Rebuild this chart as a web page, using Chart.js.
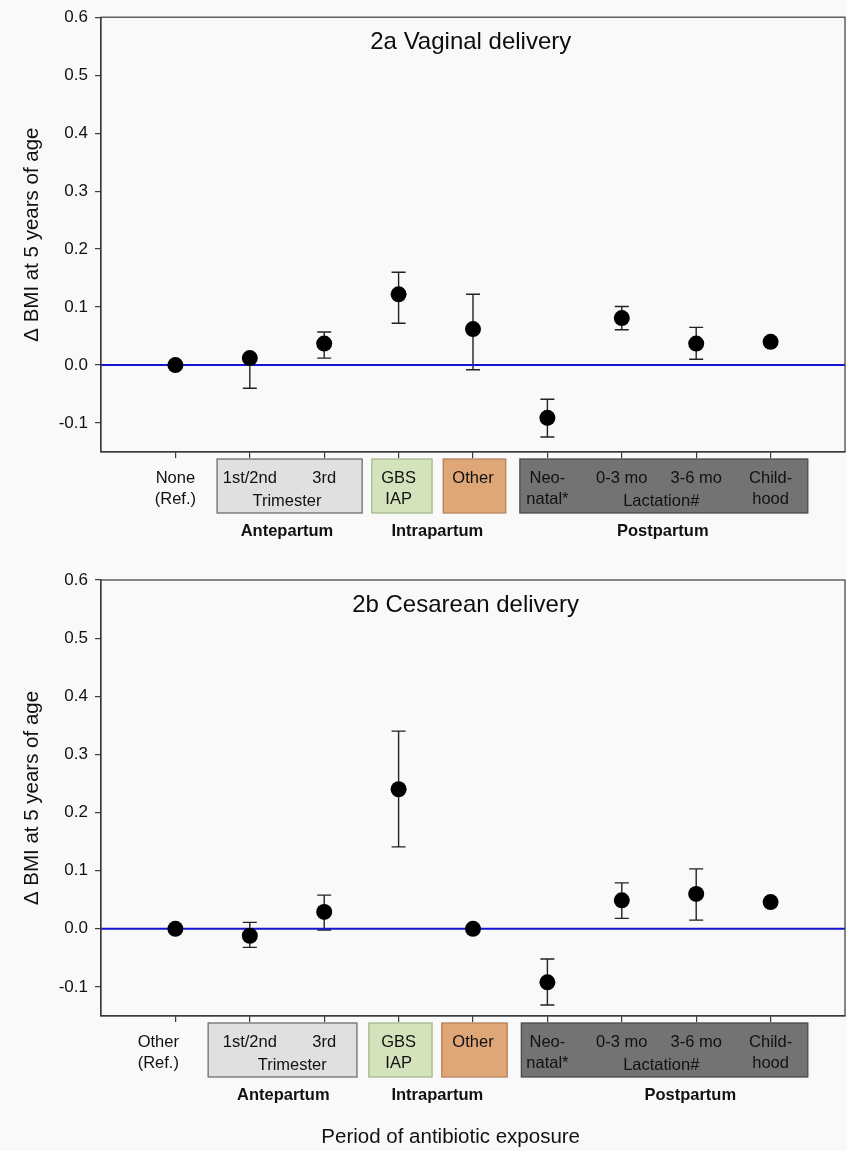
<!DOCTYPE html>
<html>
<head>
<meta charset="utf-8">
<script src="https://cdn.jsdelivr.net/npm/chart.js@4.4.1/dist/chart.umd.min.js"></script>
<style>
  html, body { margin: 0; padding: 0; background: #f9f9f9; }
  #wrap { position: relative; width: 847px; height: 1151px; }
  canvas { position: absolute; left: 0; }
  #c1 { top: 0; }
  #c2 { top: 560px; }
</style>
</head>
<body>
<div id="wrap">
  <canvas id="c1" width="847" height="560"></canvas>
  <canvas id="c2" width="847" height="591"></canvas>
</div>
<script>
// Périodes d'exposition (axe x = 1..9)
const periods = ['None (Ref.)', '1st/2nd', '3rd', 'GBS IAP', 'Other', 'Neo-natal*', '0-3 mo', '3-6 mo', 'Childhood'];
const yTicks = [-0.1, 0.0, 0.1, 0.2, 0.3, 0.4, 0.5, 0.6];

// 2a Vaginal delivery
const vagMean = [0, 0.012, 0.037, 0.122, 0.062, -0.091, 0.081, 0.037, 0.040];
const vagLow  = [null, -0.040, 0.012, 0.072, -0.008, -0.124, 0.061, 0.010, null];
const vagHigh = [null, null, 0.057, 0.160, 0.122, -0.059, 0.101, 0.065, null];

// 2b Cesarean delivery
const cesMean = [0, -0.012, 0.029, 0.240, 0, -0.092, 0.049, 0.060, 0.046];
const cesLow  = [null, -0.032, -0.002, 0.141, null, -0.131, 0.018, 0.015, null];
const cesHigh = [null, 0.011, 0.058, 0.340, null, -0.052, 0.079, 0.103, null];

const FONT = "'Liberation Sans', Arial, sans-serif";
const AXIS = '#3a3a3a';

// Boîtes sous l'axe
const boxes = [
  { fill: '#e0e0e0', stroke: '#6e6e6e' },
  { fill: '#d5e3bd', stroke: '#a6b88a' },
  { fill: '#dfa677', stroke: '#b5835a' },
  { fill: '#737373', stroke: '#4a4a4a' }
];

function panelLayout(first, antX, trimX, postX, boxX) {
  return {
    tickLabels: [
      { x: first, lines: [first === 1 ? 'None' : 'Other', '(Ref.)'] },
      { x: 2, lines: ['1st/2nd'] },
      { x: 3, lines: ['3rd'] },
      { x: 4, lines: ['GBS', 'IAP'] },
      { x: 5, lines: ['Other'] },
      { x: 6, lines: ['Neo-', 'natal*'] },
      { x: 7, lines: ['0-3 mo'] },
      { x: 8, lines: ['3-6 mo'] },
      { x: 9, lines: ['Child-', 'hood'] }
    ],
    inner: [{ x: trimX, text: 'Trimester' }, { x: 7.53, text: 'Lactation#' }],
    groups: [{ x: antX, text: 'Antepartum' }, { x: 4.52, text: 'Intrapartum' }, { x: postX, text: 'Postpartum' }],
    boxX: boxX
  };
}

const annotPlugin = {
  id: 'annot',
  beforeDatasetsDraw(chart) {
    const ctx = chart.ctx, xs = chart.scales.x, ys = chart.scales.y;
    const o = chart.options.plugins.annot;
    ctx.save();
    ctx.strokeStyle = '#222';
    ctx.lineWidth = 1.4;
    o.mean.forEach((m, i) => {
      const px = xs.getPixelForValue(i + 1);
      [o.low[i], o.high[i]].forEach(v => {
        if (v === null) return;
        const py = ys.getPixelForValue(v);
        ctx.beginPath();
        ctx.moveTo(px, ys.getPixelForValue(m));
        ctx.lineTo(px, py);
        ctx.moveTo(px - 7, py);
        ctx.lineTo(px + 7, py);
        ctx.stroke();
      });
    });
    ctx.restore();
  },
  afterDraw(chart) {
    const ctx = chart.ctx, xs = chart.scales.x;
    const a = chart.chartArea;
    const o = chart.options.plugins.annot;
    const L = o.layout;
    ctx.save();
    // cadre
    ctx.strokeStyle = AXIS;
    ctx.lineWidth = 1.2;
    ctx.strokeRect(a.left, a.top, a.right - a.left, a.bottom - a.top);
    // titre du panneau
    ctx.fillStyle = '#0d0d0d';
    ctx.font = '24px ' + FONT;
    ctx.textAlign = 'center';
    ctx.textBaseline = 'middle';
    ctx.fillText(o.title, xs.getPixelForValue(o.titleX), a.top + 25);
    // boîtes
    L.boxX.forEach((b, i) => {
      const x0 = xs.getPixelForValue(b[0]), x1 = xs.getPixelForValue(b[1]);
      ctx.fillStyle = boxes[i].fill;
      ctx.strokeStyle = boxes[i].stroke;
      ctx.lineWidth = 1.3;
      ctx.fillRect(x0, a.bottom + 7, x1 - x0, 54);
      ctx.strokeRect(x0, a.bottom + 7, x1 - x0, 54);
    });
    ctx.fillStyle = '#111';
    ctx.font = '16.5px ' + FONT;
    L.tickLabels.forEach(t => {
      t.lines.forEach((s, k) => ctx.fillText(s, xs.getPixelForValue(t.x), a.bottom + 26 + k * 21));
    });
    L.inner.forEach(t => ctx.fillText(t.text, xs.getPixelForValue(t.x), a.bottom + 49));
    ctx.font = 'bold 16.5px ' + FONT;
    L.groups.forEach(t => ctx.fillText(t.text, xs.getPixelForValue(t.x), a.bottom + 79));
    if (o.xTitle) {
      ctx.font = '20.5px ' + FONT;
      ctx.fillText(o.xTitle, xs.getPixelForValue(4.7), a.bottom + 121);
    }
    ctx.restore();
  }
};

function makeChart(id, mean, low, high, title, titleX, layout, padTop, xHeight, xTitle) {
  new Chart(document.getElementById(id), {
    type: 'scatter',
    data: {
      datasets: [{
        data: mean.map((v, i) => ({ x: i + 1, y: v })),
        backgroundColor: '#000',
        borderWidth: 0,
        pointRadius: 8,
        order: 1
      }, {
        type: 'line',
        data: [{ x: 0, y: 0 }, { x: 10, y: 0 }],
        borderColor: '#1515d0',
        borderWidth: 2,
        pointRadius: 0,
        order: 2
      }]
    },
    options: {
      responsive: false,
      animation: false,
      devicePixelRatio: 1,
      layout: { autoPadding: false, padding: { top: padTop, right: 2, left: 0, bottom: 0 } },
      plugins: {
        legend: { display: false },
        tooltip: { enabled: false },
        annot: { mean: mean, low: low, high: high, title: title, titleX: titleX, layout: layout, xTitle: xTitle }
      },
      scales: {
        x: {
          type: 'linear',
          min: 0,
          max: 10,
          afterBuildTicks: s => { s.ticks = periods.map((p, i) => ({ value: i + 1 })); },
          afterFit: s => { s.height = xHeight; },
          ticks: { callback: () => '', autoSkip: false },
          grid: { drawOnChartArea: false, tickLength: 6, color: AXIS, lineWidth: 1.2 },
          border: { color: AXIS, width: 1.2 }
        },
        y: {
          min: -0.15,
          max: 0.6,
          afterBuildTicks: s => { s.ticks = yTicks.map(v => ({ value: v })); },
          afterFit: s => { s.width = 101; },
          ticks: {
            callback: v => v.toFixed(1),
            font: { size: 17, family: FONT },
            color: '#111',
            padding: 7
          },
          grid: { drawOnChartArea: false, tickLength: 6, color: AXIS, lineWidth: 1.2 },
          border: { color: AXIS, width: 1.2 },
          title: {
            display: true,
            text: 'Δ BMI at 5 years of age',
            font: { size: 20.5, family: FONT },
            color: '#111',
            padding: { top: 20, bottom: 0 }
          }
        }
      }
    },
    plugins: [annotPlugin]
  });
}

makeChart('c1', vagMean, vagLow, vagHigh, '2a Vaginal delivery', 4.97,
  panelLayout(1, 2.5, 2.5, 7.55, [[1.56, 3.51], [3.64, 4.45], [4.6, 5.44], [5.63, 9.5]]),
  17, 108, null);
makeChart('c2', cesMean, cesLow, cesHigh, '2b Cesarean delivery', 4.9,
  panelLayout(0.77, 2.45, 2.57, 7.92, [[1.44, 3.44], [3.6, 4.45], [4.58, 5.46], [5.65, 9.5]]),
  20, 135, 'Period of antibiotic exposure');
</script>
</body>
</html>
